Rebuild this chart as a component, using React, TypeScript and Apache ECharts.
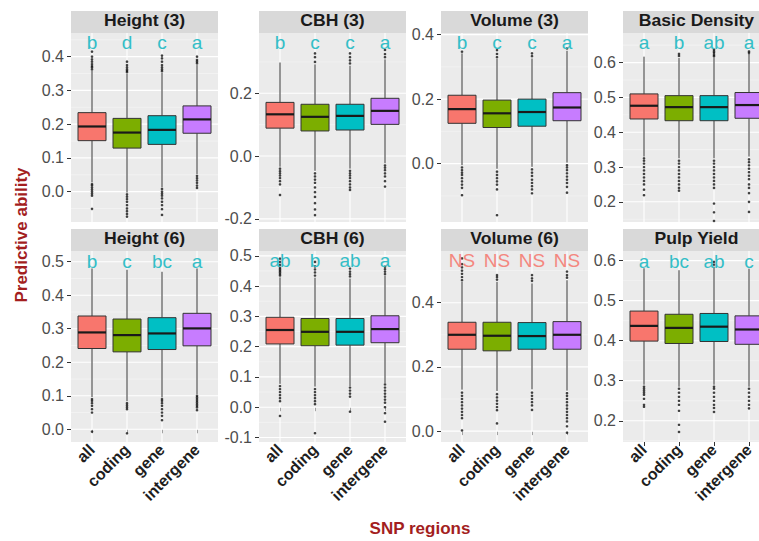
import React, { useEffect, useRef } from "react";
import * as echarts from "echarts";

const categories = ["all", "coding", "gene", "intergene"];
const boxColors = ["#F8766D", "#7CAE00", "#00BFC4", "#C77CFF"];
const panelTitles = ["Height (3)", "CBH (3)", "Volume (3)", "Basic Density", "Height (6)", "CBH (6)", "Volume (6)", "Pulp Yield"];

const yMin = [-0.09, -0.21, -0.181, 0.142, -0.038, -0.115, -0.034, 0.147];
const yMax = [0.47, 0.392, 0.405, 0.685, 0.532, 0.516, 0.561, 0.624];

const majorTicks = [
  [0, 0.1, 0.2, 0.3, 0.4],
  [-0.2, 0, 0.2],
  [0, 0.2, 0.4],
  [0.2, 0.3, 0.4, 0.5, 0.6],
  [0, 0.1, 0.2, 0.3, 0.4, 0.5],
  [-0.1, 0, 0.1, 0.2, 0.3, 0.4, 0.5],
  [0, 0.2, 0.4],
  [0.2, 0.3, 0.4, 0.5, 0.6],
];
const minorTicks = [
  [-0.05, 0.05, 0.15, 0.25, 0.35, 0.45],
  [-0.1, 0.1, 0.3],
  [-0.1, 0.1, 0.3],
  [0.15, 0.25, 0.35, 0.45, 0.55, 0.65],
  [0.05, 0.15, 0.25, 0.35, 0.45],
  [-0.05, 0.05, 0.15, 0.25, 0.35, 0.45],
  [0.1, 0.3, 0.5],
  [0.15, 0.25, 0.35, 0.45, 0.55],
];

// [low whisker, Q1, median, Q3, high whisker] for all, coding, gene, intergene
const height3Stats = [[0.027, 0.151, 0.193, 0.234, 0.358], [-0.003, 0.129, 0.175, 0.217, 0.349], [0.013, 0.14, 0.183, 0.225, 0.352], [0.052, 0.173, 0.214, 0.254, 0.375]];
const cbh3Stats = [[-0.034, 0.089, 0.133, 0.171, 0.298], [-0.047, 0.08, 0.125, 0.165, 0.292], [-0.04, 0.083, 0.128, 0.165, 0.288], [-0.023, 0.101, 0.144, 0.184, 0.308]];
const volume3Stats = [[-0.005, 0.125, 0.169, 0.212, 0.342], [-0.016, 0.112, 0.156, 0.197, 0.325], [-0.01, 0.116, 0.16, 0.2, 0.326], [0.003, 0.133, 0.174, 0.22, 0.35]];
const densityStats = [[0.33, 0.438, 0.476, 0.51, 0.617], [0.325, 0.433, 0.472, 0.505, 0.613], [0.325, 0.433, 0.472, 0.505, 0.613], [0.33, 0.44, 0.478, 0.514, 0.625]];
const height6Stats = [[0.096, 0.241, 0.289, 0.338, 0.48], [0.084, 0.231, 0.281, 0.329, 0.476], [0.095, 0.238, 0.286, 0.333, 0.47], [0.104, 0.249, 0.301, 0.346, 0.48]];
const cbh6Stats = [[0.077, 0.209, 0.255, 0.297, 0.429], [0.068, 0.203, 0.249, 0.293, 0.428], [0.07, 0.205, 0.249, 0.293, 0.425], [0.08, 0.213, 0.258, 0.302, 0.435]];
const volume6Stats = [[0.129, 0.255, 0.3, 0.339, 0.465], [0.125, 0.25, 0.297, 0.339, 0.465], [0.13, 0.255, 0.296, 0.338, 0.46], [0.126, 0.255, 0.3, 0.341, 0.47]];
const pulpStats = [[0.29, 0.399, 0.437, 0.474, 0.581], [0.285, 0.393, 0.432, 0.466, 0.576], [0.29, 0.398, 0.435, 0.468, 0.585], [0.285, 0.391, 0.428, 0.462, 0.58]];

// outliers for all, coding, gene, intergene
const height3Outliers = [
  [0.362, 0.368, 0.372, 0.378, 0.385, 0.392, 0.4, 0.415, 0.022, 0.018, 0.012, 0.006, 0, -0.006, -0.012, -0.051],
  [0.354, 0.358, 0.362, 0.368, 0.375, 0.385, -0.008, -0.015, -0.022, -0.03, -0.04, -0.05, -0.058, -0.066, -0.074],
  [0.357, 0.362, 0.368, 0.375, 0.385, 0.395, 0.403, 0.008, 0, -0.006, -0.012, -0.02, -0.03, -0.04, -0.052, -0.069],
  [0.38, 0.385, 0.39, 0.4, 0.047, 0.04, 0.033, 0.026, 0.018, 0.011],
];
const cbh3Outliers = [
  [-0.04, -0.048, -0.055, -0.062, -0.07, -0.08, -0.09, -0.124],
  [0.3, 0.315, 0.327, -0.055, -0.065, -0.075, -0.085, -0.1, -0.115, -0.13, -0.15, -0.17, -0.188],
  [0.295, 0.305, 0.315, 0.327, -0.047, -0.055, -0.062, -0.07, -0.08, -0.09, -0.1, -0.108],
  [0.315, 0.325, 0.338, -0.03, -0.037, -0.045, -0.055, -0.065, -0.08, -0.097],
];
const volume3Outliers = [
  [0.347, -0.012, -0.02, -0.028, -0.035, -0.045, -0.055, -0.065, -0.075, -0.098],
  [0.33, 0.34, 0.352, -0.025, -0.035, -0.045, -0.055, -0.065, -0.08, -0.16],
  [0.333, 0.342, -0.018, -0.028, -0.038, -0.05, -0.06, -0.07, -0.08, -0.092],
  [0.357, -0.005, -0.012, -0.02, -0.03, -0.04, -0.05, -0.06, -0.072, -0.09],
];
const densityOutliers = [
  [0.325, 0.318, 0.31, 0.3, 0.29, 0.28, 0.27, 0.26, 0.25, 0.235, 0.219],
  [0.619, 0.625, 0.318, 0.31, 0.3, 0.29, 0.28, 0.27, 0.26, 0.25, 0.24, 0.232],
  [0.618, 0.622, 0.628, 0.632, 0.637, 0.318, 0.31, 0.3, 0.29, 0.28, 0.27, 0.26, 0.25, 0.24, 0.195, 0.17, 0.145],
  [0.628, 0.632, 0.322, 0.314, 0.305, 0.295, 0.285, 0.275, 0.265, 0.25, 0.24, 0.225, 0.2, 0.171],
];
const height6Outliers = [
  [0.09, 0.085, 0.078, 0.07, 0.06, 0.05, -0.007],
  [0.078, 0.072, 0.066, 0.06, -0.012],
  [0.09, 0.085, 0.078, 0.07, 0.06, 0.05, 0.04, 0.027],
  [0.1, 0.095, 0.09, 0.085, 0.08, 0.075, 0.07, 0.065, 0.057],
];
const cbh6Outliers = [
  [0.435, 0.44, 0.445, 0.45, 0.455, 0.46, 0.47, 0.48, 0.491, 0.07, 0.06, 0.05, 0.04, 0.03, 0.02, -0.029],
  [0.435, 0.445, 0.455, 0.465, 0.48, 0.06, 0.05, 0.04, 0.03, 0.02, 0.01, -0.086],
  [0.432, 0.44, 0.448, 0.458, 0.065, 0.055, 0.045, 0.035, -0.015],
  [0.44, 0.448, 0.456, 0.464, 0.075, 0.065, 0.055, 0.045, 0.035, 0.025, 0.015, 0, -0.02, -0.048],
];
const volume6Outliers = [
  [0.47, 0.48, 0.49, 0.5, 0.51, 0.52, 0.538, 0.12, 0.11, 0.1, 0.09, 0.08, 0.07, 0.06, 0.05, 0.04, 0.002],
  [0.472, 0.48, 0.486, 0.115, 0.105, 0.095, 0.085, 0.075, 0.065, 0.024],
  [0.468, 0.476, 0.486, 0.12, 0.11, 0.1, 0.09, 0.08, 0.066],
  [0.478, 0.486, 0.497, 0.118, 0.11, 0.1, 0.09, 0.08, 0.07, 0.06, 0.05, 0.04, 0.03, 0.015, -0.005],
];
const pulpOutliers = [
  [0.285, 0.28, 0.275, 0.27, 0.265, 0.255, 0.24, 0.235],
  [0.28, 0.27, 0.26, 0.25, 0.24, 0.225, 0.19, 0.172],
  [0.59, 0.597, 0.285, 0.28, 0.27, 0.26, 0.25, 0.24, 0.232, 0.222],
  [0.28, 0.27, 0.26, 0.25, 0.24, 0.231],
];

const panelLetters = [
  ["b", "d", "c", "a"],
  ["b", "c", "c", "a"],
  ["b", "c", "c", "a"],
  ["a", "b", "ab", "a"],
  ["b", "c", "bc", "a"],
  ["ab", "b", "ab", "a"],
  ["NS", "NS", "NS", "NS"],
  ["a", "bc", "ab", "c"],
];
const letterY = [0.443, 0.363, 0.377, 0.659, 0.502, 0.483, 0.53, 0.599];

const allStats = [height3Stats, cbh3Stats, volume3Stats, densityStats, height6Stats, cbh6Stats, volume6Stats, pulpStats];
const allOutliers = [height3Outliers, cbh3Outliers, volume3Outliers, densityOutliers, height6Outliers, cbh6Outliers, volume6Outliers, pulpOutliers];

const FONT = "'Liberation Sans', Arial, Helvetica, sans-serif";
const gridLeft = [71, 259, 441, 623];
const gridTop = [33, 251];
const gridHeight = [189, 191];
const gridWidth = 147;
const stripH = 22;

export default function App() {
  const ref = useRef<HTMLDivElement>(null);
  useEffect(() => {
    document.body.style.margin = "0";
    document.body.style.overflow = "hidden";
    if (!ref.current) return;
    const chart = echarts.init(ref.current, undefined, { renderer: "svg" });

    const grids: any[] = [];
    const xAxes: any[] = [];
    const yAxes: any[] = [];
    const series: any[] = [];
    const graphics: any[] = [];

    for (let p = 0; p < 8; p++) {
      const row = p < 4 ? 0 : 1;
      const col = p % 4;
      const left = gridLeft[col];
      const top = gridTop[row];
      const h = gridHeight[row];
      grids.push({
        left, top, width: gridWidth, height: h,
        show: true, backgroundColor: "#EBEBEB", borderWidth: 0, containLabel: false,
      });
      const bottom = row === 1;
      xAxes.push({
        type: "value", gridIndex: p, min: 0.4, max: 4.6,
        axisLine: { show: false },
        splitLine: { show: false },
        axisTick: { show: bottom, customValues: [1, 2, 3, 4], length: 4, lineStyle: { color: "#333333", width: 1 } },
        axisLabel: {
          show: bottom, customValues: [1, 2, 3, 4], rotate: 45, margin: 5,
          formatter: (v: number) => categories[Math.round(v) - 1] ?? "",
          fontFamily: FONT, fontWeight: "bold", fontSize: 16, color: "#1E1E1E",
        },
      });
      yAxes.push({
        type: "value", gridIndex: p, min: yMin[p], max: yMax[p],
        axisLine: { show: false },
        splitLine: { show: false },
        axisTick: { show: true, customValues: majorTicks[p], length: 4, lineStyle: { color: "#333333", width: 1 } },
        axisLabel: {
          show: true, customValues: majorTicks[p], margin: 7,
          formatter: (v: number) => v.toFixed(1),
          fontFamily: FONT, fontSize: 16, color: "#4D4D4D",
        },
      });

      // gridlines
      const gridData: number[][] = [];
      majorTicks[p].forEach((v) => gridData.push([0, v, 1]));
      minorTicks[p].forEach((v) => gridData.push([0, v, 0]));
      [1, 2, 3, 4].forEach((v) => gridData.push([1, v, 1]));
      series.push({
        type: "custom", xAxisIndex: p, yAxisIndex: p, z: 1, silent: true,
        data: gridData,
        renderItem: (params: any, api: any) => {
          const cs = params.coordSys;
          const o = api.value(0);
          const v = api.value(1);
          const major = api.value(2);
          if (o === 0) {
            const y = api.coord([1, v])[1];
            return { type: "line", shape: { x1: cs.x, y1: y, x2: cs.x + cs.width, y2: y }, style: { stroke: major ? "#FFFFFF" : "#F7F7F7", lineWidth: major ? 1.1 : 0.6 } };
          }
          const x = api.coord([v, (yMin[p] + yMax[p]) / 2])[0];
          return { type: "line", shape: { x1: x, y1: cs.y, x2: x, y2: cs.y + cs.height }, style: { stroke: "#FFFFFF", lineWidth: 1.1 } };
        },
      });

      // boxes
      const boxData = allStats[p].map((s, i) => [i + 1, s[0], s[1], s[2], s[3], s[4], i]);
      series.push({
        type: "custom", xAxisIndex: p, yAxisIndex: p, z: 2, silent: true,
        data: boxData,
        encode: { x: 0, y: [1, 2, 3, 4, 5] },
        renderItem: (params: any, api: any) => {
          const x = api.value(0);
          const pLo = api.coord([x, api.value(1)]);
          const pQ1 = api.coord([x, api.value(2)]);
          const pMed = api.coord([x, api.value(3)]);
          const pQ3 = api.coord([x, api.value(4)]);
          const pHi = api.coord([x, api.value(5)]);
          const ci = api.value(6);
          const halfW = api.size([0.4, 0])[0];
          const cx = pLo[0];
          const ws = { stroke: "#333333", lineWidth: 1 };
          return {
            type: "group",
            children: [
              { type: "line", shape: { x1: cx, y1: pLo[1], x2: cx, y2: pQ1[1] }, style: ws },
              { type: "line", shape: { x1: cx, y1: pQ3[1], x2: cx, y2: pHi[1] }, style: ws },
              { type: "rect", shape: { x: cx - halfW, y: pQ3[1], width: 2 * halfW, height: pQ1[1] - pQ3[1] }, style: { fill: boxColors[ci], stroke: "#333333", lineWidth: 1 } },
              { type: "line", shape: { x1: cx - halfW, y1: pMed[1], x2: cx + halfW, y2: pMed[1] }, style: { stroke: "#1A1A1A", lineWidth: 2.2 } },
            ],
          };
        },
      });

      // outliers
      const outData: number[][] = [];
      allOutliers[p].forEach((arr, i) => arr.forEach((v) => outData.push([i + 1, v])));
      series.push({
        type: "scatter", xAxisIndex: p, yAxisIndex: p, z: 3, silent: true,
        symbol: "circle", symbolSize: 2.6,
        itemStyle: { color: "#111111" },
        data: outData,
      });

      // letters
      const isNS = panelLetters[p][0] === "NS";
      series.push({
        type: "custom", xAxisIndex: p, yAxisIndex: p, z: 4, silent: true,
        data: panelLetters[p].map((_, i) => [i + 1, letterY[p]]),
        renderItem: (params: any, api: any) => {
          const pt = api.coord([api.value(0), api.value(1)]);
          return {
            type: "text",
            style: {
              text: panelLetters[p][params.dataIndex],
              x: pt[0], y: pt[1],
              fill: isNS ? "#F4877F" : "#33BEC7",
              fontSize: 19, fontFamily: FONT,
              align: "center", verticalAlign: "middle",
            },
          };
        },
      });

      // strip
      graphics.push({
        type: "rect", silent: true,
        shape: { x: left, y: top - stripH, width: gridWidth, height: stripH },
        style: { fill: "#D9D9D9" },
      });
      graphics.push({
        type: "text", silent: true,
        x: left + gridWidth / 2, y: top - stripH / 2 - 1, scaleX: 1.1,
        style: {
          text: panelTitles[p], fill: "#1A1A1A",
          font: `bold 16px ${FONT}`, align: "center", verticalAlign: "middle",
        },
      });
    }

    graphics.push({
      type: "text", silent: true, x: 21, y: 235, rotation: Math.PI / 2,
      style: { text: "Predictive ability", fill: "#A31E1E", font: `bold 17px ${FONT}`, align: "center", verticalAlign: "middle" },
    });
    graphics.push({
      type: "text", silent: true, x: 420, y: 528,
      style: { text: "SNP regions", fill: "#A31E1E", font: `bold 17px ${FONT}`, align: "center", verticalAlign: "middle" },
    });

    chart.setOption({
      animation: false,
      backgroundColor: "#FFFFFF",
      grid: grids,
      xAxis: xAxes,
      yAxis: yAxes,
      series,
      graphic: graphics,
    });
    return () => chart.dispose();
  }, []);
  return (
    <div style={{ width: 759, height: 541, overflow: "hidden", position: "relative" }}>
      <div ref={ref} style={{ width: 790, height: 541 }} />
    </div>
  );
}
